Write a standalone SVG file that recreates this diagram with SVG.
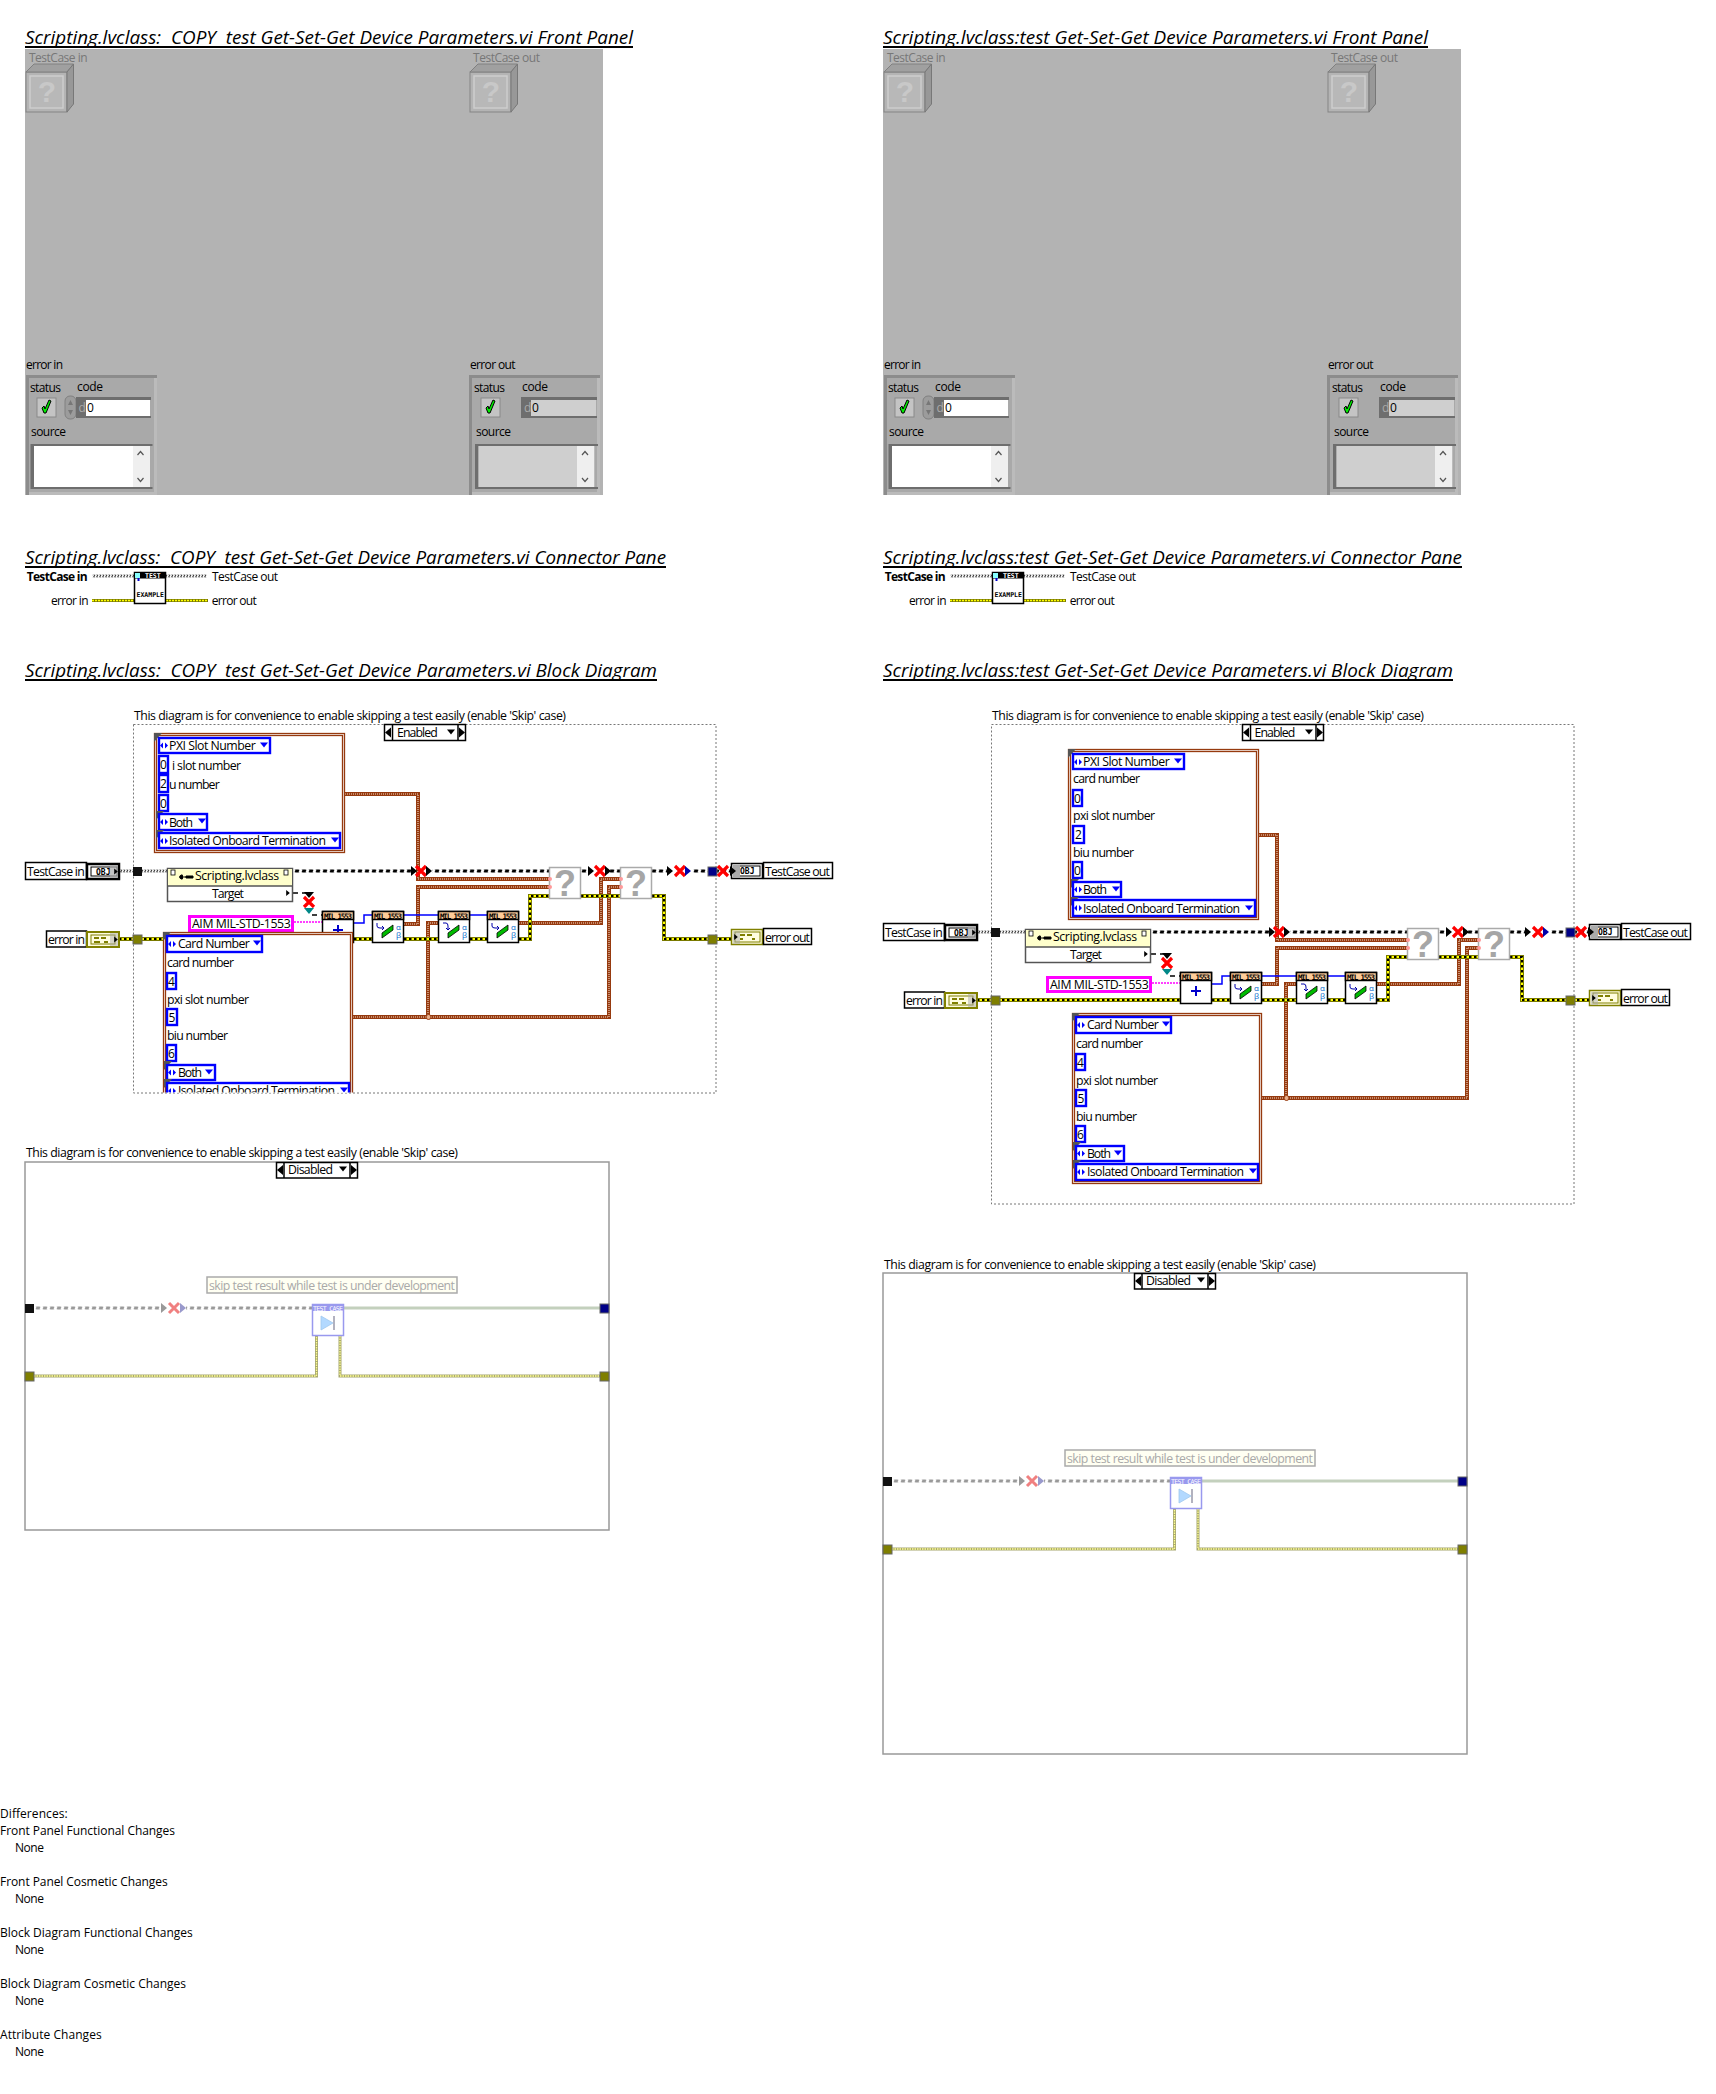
<svg xmlns="http://www.w3.org/2000/svg" width="1716" height="2094" viewBox="0 0 1716 2094">
<style>
text{font-family:"Open Sans","Noto Sans","Liberation Sans",sans-serif;font-size:12px;fill:#000;white-space:pre}
.ttl{font-style:italic;font-size:18px}
.g{fill:#777}
.b13{font-size:12.300px}
.num{font-size:12px;text-anchor:middle}
.mil{font-family:"DejaVu Sans Mono","Liberation Mono",monospace;font-size:7.500px;font-weight:bold}
.ab{font-size:8px;fill:#06c}
.obj{font-family:"DejaVu Sans Mono",monospace;font-size:8px;font-weight:bold}
.q{font-family:"Liberation Sans",sans-serif;font-weight:bold;font-size:36px;fill:#a6a6a6;text-anchor:middle}
.q2{font-family:"Liberation Sans",sans-serif;font-weight:bold;font-size:30px;fill:#c8c8c8;text-anchor:middle}
.dk{fill:#6e6e6e}
.bw1{fill:none;stroke:#963a0f;stroke-width:4}
.bw2{fill:none;stroke:#f4dccb;stroke-width:1.100;stroke-dasharray:1 1}
.yw1{fill:none;stroke:#7a7a00;stroke-width:4}
.yw2{fill:none;stroke:#ffff00;stroke-width:2}
.yw3{fill:none;stroke:#000;stroke-width:2;stroke-dasharray:2.500 2.500}
.kw{fill:none;stroke:url(#pk);stroke-width:3}
.kh{fill:none;stroke:url(#ph);stroke-width:3}
.blw{fill:none;stroke:#00f;stroke-width:1.500}
.pk{fill:none;stroke:#f0f;stroke-width:1.500;stroke-dasharray:2 1}
.td{fill:none;stroke:#000;stroke-width:1.500;stroke-dasharray:5 4}
.frm{fill:#fff;stroke:#777;stroke-width:1;stroke-dasharray:2 2}
.cl1{fill:#fff;stroke:#963a0f;stroke-width:1.300}
.cl2{fill:none;stroke:#963a0f;stroke-width:1.300}
.en{fill:#fff;stroke:#00f;stroke-width:2.400}
.blk{fill:#fff;stroke:#000;stroke-width:1.500}
.nd{fill:#fff;stroke:#000;stroke-width:1.500}
.hd{fill:#fc9;stroke:#000;stroke-width:1.500}
.qn{fill:#fff;stroke:#aaa;stroke-width:1.500}
.dy1{fill:none;stroke:#a8a870;stroke-width:3}
.dy2{fill:none;stroke:#ffff90;stroke-width:1.300;stroke-dasharray:1.500 1}
.dg{fill:none;stroke:url(#pg);stroke-width:3}
.dn{fill:none;stroke:#c3d0bd;stroke-width:3}
</style>
<defs>
<pattern id="pk" width="7" height="3" y="2.500" patternUnits="userSpaceOnUse"><path d="M.5 3L1.500 0H5.500L4.500 3Z" fill="#000"/></pattern>
<pattern id="ph" width="3" height="3" y="2.500" patternUnits="userSpaceOnUse"><path d="M0 3L1.500 0H2.500L1 3Z" fill="#000"/></pattern>
<pattern id="ph2" width="3" height="3" y="1.500" patternUnits="userSpaceOnUse"><path d="M0 3L1.500 0H2.500L1 3Z" fill="#000"/></pattern>
<pattern id="pg" width="7" height="3" y="1.500" patternUnits="userSpaceOnUse"><path d="M.5 3L1.500 0H5.500L4.500 3Z" fill="#999"/></pattern>
<g id="xm"><path d="M-5 -5L5 5M5 -5L-5 5" stroke="#f00" stroke-width="3.200" fill="none"/></g>
<path id="ar" d="M-3 -5L3 0L-3 5Z" fill="#000"/>
<g id="eic"><path d="M-4 0L-1 -3V3ZM4 0L1 -3V3Z" fill="#00f"/></g>
<path id="dd" d="M-4 -2.500H4L0 2.500Z" fill="#00f"/>
<path id="ddk" d="M-4 -2.500H4L0 2.500Z" fill="#000"/>
<path id="cor" d="M0 0H8L0 9Z" fill="#555"/>
<g id="cube">
<rect x="26" y="72" width="41" height="40" fill="#b4b4b4" stroke="#858585"/>
<path d="M26 72L34 64H73.500L67 72Z" fill="#a0a0a0" stroke="#808080"/>
<path d="M67 72L73.500 64V104L67 112Z" fill="#989898" stroke="#787878"/>
<rect x="30" y="76" width="33" height="32" fill="#b8b8b8" stroke="#cdcdcd" stroke-width="1.500"/>
</g>
<path id="chk" d="M-4 1L-2 -1L-1 2L3 -7L5 -6L0 6L-2 6Z" fill="#0e0" stroke="#000" stroke-width="1"/>
<g id="clu">
<rect x="26" y="375" width="131" height="120" fill="#a9a9a9"/>
<path d="M26 375H157V378H29V495H26Z" fill="#8c8c8c"/>
<rect x="29" y="492" width="128" height="3" fill="#bbb"/>
<rect x="154" y="378" width="3" height="117" fill="#bbb"/>
</g>
<g id="ico1"><path d="M-10 -6V-3Q-10 -1 -7 -1H-3M-5 -3L-3 -1L-5 1" fill="none" stroke="#00a" stroke-width="1"/><path d="M-5 9V4L6 -4V1Z" fill="#0b0" stroke="#000" stroke-width="0.800"/></g>
<g id="ico2"><path d="M-10 -6H-7Q-5 -6 -5 -3V1M-7 -1L-5 1L-3 -1" fill="none" stroke="#00a" stroke-width="1"/><path d="M-5 9V4L6 -4V1Z" fill="#0b0" stroke="#000" stroke-width="0.800"/></g>
<clipPath id="clip1"><rect x="130" y="724" width="590" height="368.500"/></clipPath>
</defs>

<g id="titles">
<text class="ttl" x="25" y="44" textLength="608" lengthAdjust="spacingAndGlyphs">Scripting.lvclass:  COPY  test Get-Set-Get Device Parameters.vi Front Panel</text><rect x="25" y="46" width="608" height="2"/>
<text class="ttl" x="883" y="44" textLength="545" lengthAdjust="spacingAndGlyphs">Scripting.lvclass:test Get-Set-Get Device Parameters.vi Front Panel</text><rect x="883" y="46" width="545" height="2"/>
<text class="ttl" x="25" y="564" textLength="641" lengthAdjust="spacingAndGlyphs">Scripting.lvclass:  COPY  test Get-Set-Get Device Parameters.vi Connector Pane</text><rect x="25" y="566" width="641" height="2"/>
<text class="ttl" x="883" y="564" textLength="579" lengthAdjust="spacingAndGlyphs">Scripting.lvclass:test Get-Set-Get Device Parameters.vi Connector Pane</text><rect x="883" y="566" width="579" height="2"/>
<text class="ttl" x="25" y="677" textLength="632" lengthAdjust="spacingAndGlyphs">Scripting.lvclass:  COPY  test Get-Set-Get Device Parameters.vi Block Diagram</text><rect x="25" y="679" width="632" height="2"/>
<text class="ttl" x="883" y="677" textLength="570" lengthAdjust="spacingAndGlyphs">Scripting.lvclass:test Get-Set-Get Device Parameters.vi Block Diagram</text><rect x="883" y="679" width="570" height="2"/>
</g>

<g id="front-panel-left">
<rect x="25" y="49" width="578" height="446" fill="#b3b3b3"/>
<text class="g" x="29" y="62" textLength="58.600">TestCase in</text>
<use href="#cube"/><text class="q2" x="47" y="102">?</text>
<text class="g" x="473" y="62" textLength="67">TestCase out</text>
<use href="#cube" x="444"/><text class="q2" x="491" y="102">?</text>
<text x="26" y="369" textLength="37">error in</text>
<use href="#clu"/>
<text x="30" y="392" textLength="31">status</text><text x="77" y="391" textLength="26">code</text>
<rect x="37" y="398" width="19" height="19" fill="#c4c4c4" stroke="#8a8a8a"/><use href="#chk" x="46" y="407"/>
<rect x="65" y="396" width="11" height="23" rx="5" fill="#9c9c9c" stroke="#808080"/>
<path d="M68 405L70.500 400L73 405ZM68 410L70.500 415L73 410Z" fill="#777"/>
<path class="dk" d="M76 397H151V400H86V416H151V418H76Z"/><rect x="86" y="400" width="64" height="16" fill="#fff"/>
<text x="78.500" y="412" style="fill:#aaa">d</text><text x="87" y="412">0</text>
<text x="31" y="436" textLength="35">source</text>
<path class="dk" d="M30.500 444H152.500V446H34V487H152.500V489H30.500Z"/><rect x="34" y="446" width="116" height="41" fill="#fff"/>
<rect x="133" y="446" width="17" height="41" fill="#efefef"/>
<path d="M137.500 455L140.500 451.500L143.500 455M137.500 478L140.500 481.500L143.500 478" fill="none" stroke="#555" stroke-width="1.200"/>
<text x="470" y="369" textLength="45.500">error out</text>
<use href="#clu" x="443"/><rect x="600" y="378" width="3" height="117" fill="#b3b3b3"/>
<text x="474" y="392" textLength="31">status</text><text x="522" y="391" textLength="26">code</text>
<rect x="481" y="398" width="19" height="19" fill="#c4c4c4" stroke="#8a8a8a"/><use href="#chk" x="490" y="407"/>
<path class="dk" d="M521 397H597V400H531V416H597V418H521Z"/><rect x="531" y="400" width="65" height="16" fill="#cfcfcf"/>
<text x="524" y="412" style="fill:#aaa">d</text><text x="532" y="412">0</text>
<text x="476" y="436" textLength="35">source</text>
<path class="dk" d="M475 444H598V446H478.500V487H598V489H475Z"/><rect x="478.500" y="446" width="116" height="41" fill="#cfcfcf"/>
<rect x="577" y="446" width="17" height="41" fill="#efefef"/>
<path d="M582 455L585 451.500L588 455M582 478L585 481.500L588 478" fill="none" stroke="#555" stroke-width="1.200"/>
</g>

<g id="front-panel-right" transform="translate(858 0)">
<rect x="25" y="49" width="578" height="446" fill="#b3b3b3"/>
<text class="g" x="29" y="62" textLength="58.600">TestCase in</text>
<use href="#cube"/><text class="q2" x="47" y="102">?</text>
<text class="g" x="473" y="62" textLength="67">TestCase out</text>
<use href="#cube" x="444"/><text class="q2" x="491" y="102">?</text>
<text x="26" y="369" textLength="37">error in</text>
<use href="#clu"/>
<text x="30" y="392" textLength="31">status</text><text x="77" y="391" textLength="26">code</text>
<rect x="37" y="398" width="19" height="19" fill="#c4c4c4" stroke="#8a8a8a"/><use href="#chk" x="46" y="407"/>
<rect x="65" y="396" width="11" height="23" rx="5" fill="#9c9c9c" stroke="#808080"/>
<path d="M68 405L70.500 400L73 405ZM68 410L70.500 415L73 410Z" fill="#777"/>
<path class="dk" d="M76 397H151V400H86V416H151V418H76Z"/><rect x="86" y="400" width="64" height="16" fill="#fff"/>
<text x="78.500" y="412" style="fill:#aaa">d</text><text x="87" y="412">0</text>
<text x="31" y="436" textLength="35">source</text>
<path class="dk" d="M30.500 444H152.500V446H34V487H152.500V489H30.500Z"/><rect x="34" y="446" width="116" height="41" fill="#fff"/>
<rect x="133" y="446" width="17" height="41" fill="#efefef"/>
<path d="M137.500 455L140.500 451.500L143.500 455M137.500 478L140.500 481.500L143.500 478" fill="none" stroke="#555" stroke-width="1.200"/>
<text x="470" y="369" textLength="45.500">error out</text>
<use href="#clu" x="443"/><rect x="600" y="378" width="3" height="117" fill="#b3b3b3"/>
<text x="474" y="392" textLength="31">status</text><text x="522" y="391" textLength="26">code</text>
<rect x="481" y="398" width="19" height="19" fill="#c4c4c4" stroke="#8a8a8a"/><use href="#chk" x="490" y="407"/>
<path class="dk" d="M521 397H597V400H531V416H597V418H521Z"/><rect x="531" y="400" width="65" height="16" fill="#cfcfcf"/>
<text x="524" y="412" style="fill:#aaa">d</text><text x="532" y="412">0</text>
<text x="476" y="436" textLength="35">source</text>
<path class="dk" d="M475 444H598V446H478.500V487H598V489H475Z"/><rect x="478.500" y="446" width="116" height="41" fill="#cfcfcf"/>
<rect x="577" y="446" width="17" height="41" fill="#efefef"/>
<path d="M582 455L585 451.500L588 455M582 478L585 481.500L588 478" fill="none" stroke="#555" stroke-width="1.200"/>
</g>

<g id="connector-pane-left">
<path d="M92 576H134M166 576H207" fill="none" stroke="url(#ph2)" stroke-width="3"/>
<path class="yw1" d="M92 600.500H134M166 600.500H208" style="stroke-width:3"/><path class="yw2" d="M92 600.500H134M166 600.500H208" style="stroke-dasharray:2 1;stroke-width:1.500"/>
<text x="26.700" y="581" style="font-weight:bold" textLength="61">TestCase in</text>
<text x="212" y="581" textLength="66">TestCase out</text>
<text x="51" y="605" textLength="37.500">error in</text>
<text x="211.700" y="605" textLength="45">error out</text>
<rect x="134.500" y="572.500" width="31" height="31" class="nd"/><rect x="134.500" y="572.500" width="31" height="6" fill="#000"/>
<rect x="135" y="573" width="5" height="5" fill="#8ff"/><rect x="137.500" y="578" width="2" height="3" fill="#00c"/>
<text class="mil" x="145" y="578" style="fill:#fff;font-size:6.500px">TEST</text>
<text class="mil" x="136.500" y="597" style="font-size:6.500px">EXAMPLE</text>
</g>
<g id="connector-pane-right" transform="translate(858 0)">
<path d="M92 576H134M166 576H207" fill="none" stroke="url(#ph2)" stroke-width="3"/>
<path class="yw1" d="M92 600.500H134M166 600.500H208" style="stroke-width:3"/><path class="yw2" d="M92 600.500H134M166 600.500H208" style="stroke-dasharray:2 1;stroke-width:1.500"/>
<text x="26.700" y="581" style="font-weight:bold" textLength="61">TestCase in</text>
<text x="212" y="581" textLength="66">TestCase out</text>
<text x="51" y="605" textLength="37.500">error in</text>
<text x="211.700" y="605" textLength="45">error out</text>
<rect x="134.500" y="572.500" width="31" height="31" class="nd"/><rect x="134.500" y="572.500" width="31" height="6" fill="#000"/>
<rect x="135" y="573" width="5" height="5" fill="#8ff"/><rect x="137.500" y="578" width="2" height="3" fill="#00c"/>
<text class="mil" x="145" y="578" style="fill:#fff;font-size:6.500px">TEST</text>
<text class="mil" x="136.500" y="597" style="font-size:6.500px">EXAMPLE</text>
</g>

<g id="bd-frames">
<text class="b13" x="134" y="720" textLength="432">This diagram is for convenience to enable skipping a test easily (enable 'Skip' case)</text>
<rect class="frm" x="133.500" y="724.500" width="582.500" height="368.500"/>
<text class="b13" x="992" y="720" textLength="432">This diagram is for convenience to enable skipping a test easily (enable 'Skip' case)</text>
<rect class="frm" x="991.500" y="724.500" width="582.500" height="479.500"/>
</g>

<g id="connectors">
<g id="wires-left">
<path class="bw1" d="M345 794H418V879H549M404 924H418V887H549M519 923H601V879H620M353 1017H609V887H620M428 1017V923H438"/>
<path class="bw2" d="M345 794H418V879H549M404 924H418V887H549M519 923H601V879H620M353 1017H609V887H620M428 1017V923H438"/>
<path class="yw1" d="M119 939H322M354 939H372M404 939H438M470 939H487M519 939H530V896H549M581 896H620M652 896H664V939H731"/>
<path class="yw2" d="M119 939H322M354 939H372M404 939H438M470 939H487M519 939H530V896H549M581 896H620M652 896H664V939H731"/>
<path class="yw3" d="M119 939H322M354 939H372M404 939H438M470 939H487M519 939H530V896H549M581 896H620M652 896H664V939H731"/>
<path class="kh" d="M119 871H167"/>
<path class="kw" d="M293 871H411M432 871H549M581 871H591M610 871H620M652 871H671M692 871H708M717 871H731"/>
<path class="td" d="M293 893H312M312 915H322"/>
<path class="pk" d="M294 922H322"/>
<path class="blw" d="M354 923H364V915H372M404 915H438M470 915H487"/>
</g>
<g id="wires-right" transform="translate(858 61)">
<path class="bw1" d="M401 774H419V879H549M404 923H419V887H549M519 923H601V879H620M404 1037H609V887H620M428 1037V923H438"/>
<path class="bw2" d="M401 774H419V879H549M404 923H419V887H549M519 923H601V879H620M404 1037H609V887H620M428 1037V923H438"/>
<path class="yw1" d="M119 939H322M354 939H372M404 939H438M470 939H487M519 939H530V896H549M581 896H620M652 896H664V939H731"/>
<path class="yw2" d="M119 939H322M354 939H372M404 939H438M470 939H487M519 939H530V896H549M581 896H620M652 896H664V939H731"/>
<path class="yw3" d="M119 939H322M354 939H372M404 939H438M470 939H487M519 939H530V896H549M581 896H620M652 896H664V939H731"/>
<path class="kh" d="M119 871H167"/>
<path class="kw" d="M293 871H411M432 871H549M581 871H591M610 871H620M652 871H671M692 871H708M717 871H731"/>
<path class="td" d="M293 893H312M312 915H322"/>
<path class="pk" d="M294 922H322"/>
<path class="blw" d="M354 923H364V915H372M404 915H438M470 915H487"/>
</g>
<g id="wires-disabled-left">
<path class="dy1" d="M34 1376H316.500V1336M340 1336V1376H600"/><path class="dy2" d="M34 1376H316.500V1336M340 1336V1376H600"/>
<path class="dg" d="M34 1308H162M186 1308H312"/><path class="dn" d="M344 1308H600"/>
</g>
<g id="wires-disabled-right" transform="translate(858 173)">
<path class="dy1" d="M34 1376H316.500V1336M340 1336V1376H600"/><path class="dy2" d="M34 1376H316.500V1336M340 1336V1376H600"/>
<path class="dg" d="M34 1308H162M186 1308H312"/><path class="dn" d="M344 1308H600"/>
</g>
</g>

<g id="bd-left">
<g id="sel-enabled-l"><rect class="blk" x="384.500" y="724.500" width="81" height="16"/><path d="M392.500 724.500V740.500M458 724.500V740.500" stroke="#000" stroke-width="1.500"/><use href="#ar" transform="translate(388 732.500) scale(-1 1)"/><use href="#ar" x="462" y="732.500"/><text class="b13" x="397" y="737" textLength="40.700">Enabled</text><use href="#ddk" x="451" y="732"/></g>
<g id="cluster1-l"><rect class="cl1" x="154.500" y="733.500" width="190" height="119"/><rect class="cl2" x="156.500" y="735.500" width="186" height="115"/><use href="#cor" x="154" y="733"/>
<rect class="en" x="159" y="738" width="111" height="15"/><use href="#eic" x="164" y="745.500"/><text class="b13" x="169" y="750" textLength="86.700">PXI Slot Number</text><use href="#dd" x="264" y="745"/>
<rect class="en" x="159" y="756" width="9" height="17"/><text class="num" x="163.500" y="769">0</text><text class="b13" x="172" y="770" textLength="69">i slot number</text>
<rect class="en" x="159" y="775" width="9" height="17"/><text class="num" x="163.500" y="788">2</text><text class="b13" x="169" y="789" textLength="50.700">u number</text>
<rect class="en" x="159" y="795" width="9" height="16"/><text class="num" x="163.500" y="808">0</text>
<use href="#cor" x="156" y="811"/><rect class="en" x="159" y="814" width="48" height="16"/><use href="#eic" x="164" y="822"/><text class="b13" x="169" y="827" textLength="24">Both</text><use href="#dd" x="202" y="821"/>
<use href="#cor" x="156" y="830"/><rect class="en" x="159" y="833" width="181" height="15"/><use href="#eic" x="164" y="841"/><text class="b13" x="169" y="845" textLength="157">Isolated Onboard Termination</text><use href="#dd" x="335" y="840"/></g>
<g id="testcase-in-l"><rect class="blk" x="25.500" y="862.500" width="61" height="17"/><text class="b13" x="27" y="876" textLength="57.700">TestCase in</text><rect x="87" y="864" width="32" height="15" fill="#fff" stroke="#000" stroke-width="2.500"/><rect x="91" y="867" width="26" height="9" fill="#fff" stroke="#000"/><text class="obj" x="96" y="874.500">OBJ</text><rect x="110" y="865" width="8" height="13" fill="#aaa" opacity="0.7"/><use href="#ar" transform="translate(116 871.500) scale(0.6)"/></g>
<g id="error-in-l"><rect class="blk" x="46.500" y="931" width="40" height="16"/><text class="b13" x="48" y="944" textLength="37">error in</text><rect x="87" y="932" width="32" height="15" fill="#fffde0" stroke="#808000" stroke-width="2"/><rect x="91" y="935" width="24" height="9" fill="none" stroke="#808000"/><path d="M94 937h5v2h-5zM101 937h5v2h-5zM94 941h6v2h-6zM104 941h4v2h-4z" fill="#808000"/><rect x="110" y="933" width="8" height="13" fill="#aaa" opacity="0.5"/><use href="#ar" transform="translate(116 939.500) scale(0.6)"/></g>
<rect id="tun-obj-in-l" x="133" y="867" width="9" height="9" fill="#111"/>
<rect id="tun-err-in-l" x="133" y="935" width="9" height="9" fill="#7f7f00" stroke="#666"/>
<g id="class-l"><rect x="167.500" y="868.500" width="125" height="33" fill="#fff" stroke="#555" stroke-width="1.500"/><rect x="168" y="869" width="124" height="17" fill="#ffc"/><path d="M167.500 886H292.500" stroke="#555" stroke-width="1.500"/><text class="b13" x="195" y="880" textLength="84">Scripting.lvclass</text><text class="b13" x="228" y="898" text-anchor="middle" textLength="32">Target</text><path d="M182 877h6M183 875.500a2 2 0 1 0 0 3M186 876h7v2h-7z" fill="#000" stroke="#000"/><rect x="171" y="870" width="4" height="5" fill="#fff" stroke="#000" stroke-width="0.800"/><rect x="284" y="870" width="4" height="5" fill="#fff" stroke="#000" stroke-width="0.800"/><use href="#ar" transform="translate(288 893) scale(0.6)"/></g>
<g id="aim-l"><rect x="189.500" y="916.500" width="103" height="14" fill="#fff" stroke="#f0f" stroke-width="3"/><text class="b13" x="192" y="928" textLength="98.700">AIM MIL-STD-1553</text></g>
<g id="mil1-l"><rect class="nd" x="322.500" y="911.500" width="31" height="31"/><rect class="hd" x="322.500" y="911.500" width="31" height="8"/><text class="mil" x="324" y="918.500" textLength="28">MIL 1553</text><path d="M338 925V935M333 930H343" stroke="#00c" stroke-width="2"/></g>
<g id="mil2-l"><rect class="nd" x="372.500" y="911.500" width="31" height="31"/><rect class="hd" x="372.500" y="911.500" width="31" height="8"/><text class="mil" x="374" y="918.500" textLength="28">MIL 1553</text><use href="#ico1" x="387" y="929"/><text class="ab" x="396" y="930">α</text><text class="ab" x="396" y="938">β</text></g>
<g id="mil3-l"><rect class="nd" x="438.500" y="911.500" width="31" height="31"/><rect class="hd" x="438.500" y="911.500" width="31" height="8"/><text class="mil" x="440" y="918.500" textLength="28">MIL 1553</text><use href="#ico2" x="453" y="929"/><text class="ab" x="462" y="930">α</text><text class="ab" x="462" y="938">β</text></g>
<g id="mil4-l"><rect class="nd" x="487.500" y="911.500" width="31" height="31"/><rect class="hd" x="487.500" y="911.500" width="31" height="8"/><text class="mil" x="489" y="918.500" textLength="28">MIL 1553</text><use href="#ico1" x="502" y="929"/><text class="ab" x="511" y="930">α</text><text class="ab" x="511" y="938">β</text></g>
<g id="cluster2-l" clip-path="url(#clip1)"><rect class="cl1" x="163.500" y="932.500" width="189" height="171"/><rect class="cl2" x="165.500" y="934.500" width="185" height="167"/><use href="#cor" x="163" y="932"/>
<rect class="en" x="167" y="936" width="95" height="16"/><use href="#eic" x="172" y="944"/><text class="b13" x="178" y="948" textLength="71.700">Card Number</text><use href="#dd" x="257" y="943"/>
<text class="b13" x="167" y="967" textLength="67">card number</text><rect class="en" x="167" y="973" width="9" height="16"/><text class="num" x="171.500" y="986">4</text>
<text class="b13" x="167" y="1004" textLength="82">pxi slot number</text><rect class="en" x="167" y="1009" width="10" height="16"/><text class="num" x="172" y="1022">5</text>
<text class="b13" x="167" y="1040" textLength="61">biu number</text><rect class="en" x="167" y="1045" width="9" height="16"/><text class="num" x="171.500" y="1058">6</text>
<use href="#cor" x="164" y="1061"/><rect class="en" x="167" y="1065" width="48" height="15"/><use href="#eic" x="172" y="1072.500"/><text class="b13" x="178" y="1077" textLength="24">Both</text><use href="#dd" x="209" y="1072"/>
<use href="#cor" x="164" y="1079"/><rect class="en" x="167" y="1083" width="182" height="16"/><use href="#eic" x="172" y="1091"/><text class="b13" x="178" y="1095" textLength="157">Isolated Onboard Termination</text><use href="#dd" x="344" y="1090"/></g>
<g id="q1-l"><rect class="qn" x="549.500" y="867.500" width="31" height="31"/><text class="q" x="565" y="896">?</text><circle cx="550" cy="879" r="2" fill="#f99"/><circle cx="550" cy="887" r="2" fill="#f99"/></g>
<g id="q2-l"><rect class="qn" x="620.500" y="867.500" width="31" height="31"/><text class="q" x="636" y="896">?</text><circle cx="621" cy="879" r="2" fill="#f99"/><circle cx="621" cy="887" r="2" fill="#f99"/></g>
<circle id="junction-l" cx="428.500" cy="1017" r="2.500" fill="#e9b08c" stroke="#963a0f"/>
<g id="bugs-l">
<use href="#ar" x="414" y="871"/><use href="#xm" x="421" y="871"/><use href="#ar" x="429" y="871"/>
<use href="#ar" x="591" y="871"/><use href="#xm" x="600" y="871"/><use href="#ar" x="608" y="871"/>
<use href="#ar" x="670" y="871"/><use href="#xm" x="680" y="871"/><path d="M685 866L691 871L685 876Z" fill="#00a"/>
<path d="M304 892H314L309 898Z" fill="#000"/><use href="#xm" x="309" y="902"/><path d="M304 908H314L309 914Z" fill="#088"/>
</g>
<rect id="tun-obj-out-l" x="708" y="867" width="9" height="9" fill="#008" stroke="#666"/>
<rect id="tun-err-out-l" x="708" y="935" width="9" height="9" fill="#7f7f00" stroke="#666"/>
<g id="testcase-out-l"><rect x="731.500" y="863.500" width="31" height="15" fill="#fff" stroke="#000" stroke-width="1.500"/><rect x="735" y="866" width="25" height="10" fill="#fff" stroke="#000"/><text class="obj" x="740" y="874">OBJ</text><rect x="733" y="865" width="7" height="13" fill="#aaa"/><use href="#xm" x="723" y="871"/><use href="#ar" x="733" y="871"/><rect class="blk" x="763.500" y="862.500" width="69" height="16"/><text class="b13" x="765" y="876" textLength="65">TestCase out</text></g>
<g id="error-out-l"><rect x="731.500" y="929.500" width="31" height="15" fill="#fffde0" stroke="#808000" stroke-width="1.500"/><rect x="735" y="932" width="25" height="10" fill="none" stroke="#808000"/><path d="M740 934h5v2h-5zM747 934h5v2h-5zM740 938h3v2h-3zM752 938h3v2h-3z" fill="#808000"/><rect x="733" y="931" width="7" height="13" fill="#aaa" opacity="0.5"/><use href="#ar" transform="translate(736 937) scale(0.6)"/><rect class="blk" x="763.500" y="928.500" width="48" height="16"/><text class="b13" x="765" y="942" textLength="45">error out</text></g>
</g>

<g id="bd-right">
<g id="sel-enabled-r"><rect class="blk" x="1242.500" y="724.500" width="81" height="16"/><path d="M1250.500 724.500V740.500M1316 724.500V740.500" stroke="#000" stroke-width="1.500"/><use href="#ar" transform="translate(1246 732.500) scale(-1 1)"/><use href="#ar" x="1320" y="732.500"/><text class="b13" x="1254.500" y="737" textLength="40.700">Enabled</text><use href="#ddk" x="1309" y="732"/></g>
<g id="cluster1-r"><rect class="cl1" x="1068.500" y="749.500" width="190" height="170"/><rect class="cl2" x="1070.500" y="751.500" width="186" height="166"/><use href="#cor" x="1068" y="749"/>
<rect class="en" x="1073" y="754" width="111" height="15"/><use href="#eic" x="1078" y="762"/><text class="b13" x="1083" y="766" textLength="86.700">PXI Slot Number</text><use href="#dd" x="1178" y="761"/>
<text class="b13" x="1073" y="783" textLength="67">card number</text><rect class="en" x="1073" y="790" width="9" height="16"/><text class="num" x="1077.500" y="803">0</text>
<text class="b13" x="1073" y="820" textLength="82">pxi slot number</text><rect class="en" x="1073" y="826" width="11" height="17"/><text class="num" x="1078.500" y="839">2</text>
<text class="b13" x="1073" y="857" textLength="61">biu number</text><rect class="en" x="1073" y="862" width="9" height="16"/><text class="num" x="1077.500" y="875">0</text>
<use href="#cor" x="1071" y="879"/><rect class="en" x="1073" y="882" width="48" height="15"/><use href="#eic" x="1078" y="889.500"/><text class="b13" x="1083" y="894" textLength="24">Both</text><use href="#dd" x="1116" y="889"/>
<use href="#cor" x="1071" y="897"/><rect class="en" x="1073" y="900" width="182" height="16"/><use href="#eic" x="1078" y="908"/><text class="b13" x="1083" y="913" textLength="157">Isolated Onboard Termination</text><use href="#dd" x="1249" y="908"/></g>
<g id="testcase-in-r"><rect class="blk" x="883.500" y="923.500" width="61" height="17"/><text class="b13" x="885" y="937" textLength="57.700">TestCase in</text><rect x="945" y="925" width="32" height="15" fill="#fff" stroke="#000" stroke-width="2.500"/><rect x="949" y="928" width="26" height="9" fill="#fff" stroke="#000"/><text class="obj" x="954" y="935.500">OBJ</text><rect x="968" y="926" width="8" height="13" fill="#aaa" opacity="0.7"/><use href="#ar" transform="translate(974 932.500) scale(0.6)"/></g>
<g id="error-in-r"><rect class="blk" x="904.500" y="992" width="40" height="16"/><text class="b13" x="906" y="1005" textLength="37">error in</text><rect x="945" y="993" width="32" height="15" fill="#fffde0" stroke="#808000" stroke-width="2"/><rect x="949" y="996" width="24" height="9" fill="none" stroke="#808000"/><path d="M952 998h5v2h-5zM959 998h5v2h-5zM952 1002h6v2h-6zM962 1002h4v2h-4z" fill="#808000"/><rect x="968" y="994" width="8" height="13" fill="#aaa" opacity="0.5"/><use href="#ar" transform="translate(974 1000.500) scale(0.6)"/></g>
<rect id="tun-obj-in-r" x="991" y="928" width="9" height="9" fill="#111"/>
<rect id="tun-err-in-r" x="991" y="996" width="9" height="9" fill="#7f7f00" stroke="#666"/>
<g id="class-r"><rect x="1025.500" y="929.500" width="125" height="33" fill="#fff" stroke="#555" stroke-width="1.500"/><rect x="1026" y="930" width="124" height="17" fill="#ffc"/><path d="M1025.500 947H1150.500" stroke="#555" stroke-width="1.500"/><text class="b13" x="1053" y="941" textLength="84">Scripting.lvclass</text><text class="b13" x="1086" y="959" text-anchor="middle" textLength="32">Target</text><path d="M1040 938h6M1041 936.500a2 2 0 1 0 0 3M1044 937h7v2h-7z" fill="#000" stroke="#000"/><rect x="1029" y="931" width="4" height="5" fill="#fff" stroke="#000" stroke-width="0.800"/><rect x="1142" y="931" width="4" height="5" fill="#fff" stroke="#000" stroke-width="0.800"/><use href="#ar" transform="translate(1146 954) scale(0.6)"/></g>
<g id="aim-r"><rect x="1047.500" y="977.500" width="103" height="14" fill="#fff" stroke="#f0f" stroke-width="3"/><text class="b13" x="1050" y="989" textLength="98.700">AIM MIL-STD-1553</text></g>
<g id="mil1-r"><rect class="nd" x="1180.500" y="972.500" width="31" height="31"/><rect class="hd" x="1180.500" y="972.500" width="31" height="8"/><text class="mil" x="1182" y="979.500" textLength="28">MIL 1553</text><path d="M1196 986V996M1191 991H1201" stroke="#00c" stroke-width="2"/></g>
<g id="mil2-r"><rect class="nd" x="1230.500" y="972.500" width="31" height="31"/><rect class="hd" x="1230.500" y="972.500" width="31" height="8"/><text class="mil" x="1232" y="979.500" textLength="28">MIL 1553</text><use href="#ico1" x="1245" y="990"/><text class="ab" x="1254" y="991">α</text><text class="ab" x="1254" y="999">β</text></g>
<g id="mil3-r"><rect class="nd" x="1296.500" y="972.500" width="31" height="31"/><rect class="hd" x="1296.500" y="972.500" width="31" height="8"/><text class="mil" x="1298" y="979.500" textLength="28">MIL 1553</text><use href="#ico2" x="1311" y="990"/><text class="ab" x="1320" y="991">α</text><text class="ab" x="1320" y="999">β</text></g>
<g id="mil4-r"><rect class="nd" x="1345.500" y="972.500" width="31" height="31"/><rect class="hd" x="1345.500" y="972.500" width="31" height="8"/><text class="mil" x="1347" y="979.500" textLength="28">MIL 1553</text><use href="#ico1" x="1360" y="990"/><text class="ab" x="1369" y="991">α</text><text class="ab" x="1369" y="999">β</text></g>
<g id="cluster2-r" transform="translate(909 81)"><rect class="cl1" x="163.500" y="932.500" width="189" height="170"/><rect class="cl2" x="165.500" y="934.500" width="185" height="166"/><use href="#cor" x="163" y="932"/>
<rect class="en" x="167" y="936" width="95" height="16"/><use href="#eic" x="172" y="944"/><text class="b13" x="178" y="948" textLength="71.700">Card Number</text><use href="#dd" x="257" y="943"/>
<text class="b13" x="167" y="967" textLength="67">card number</text><rect class="en" x="167" y="973" width="9" height="16"/><text class="num" x="171.500" y="986">4</text>
<text class="b13" x="167" y="1004" textLength="82">pxi slot number</text><rect class="en" x="167" y="1009" width="10" height="16"/><text class="num" x="172" y="1022">5</text>
<text class="b13" x="167" y="1040" textLength="61">biu number</text><rect class="en" x="167" y="1045" width="9" height="16"/><text class="num" x="171.500" y="1058">6</text>
<use href="#cor" x="164" y="1061"/><rect class="en" x="167" y="1065" width="48" height="15"/><use href="#eic" x="172" y="1072.500"/><text class="b13" x="178" y="1077" textLength="24">Both</text><use href="#dd" x="209" y="1072"/>
<use href="#cor" x="164" y="1079"/><rect class="en" x="167" y="1083" width="182" height="16"/><use href="#eic" x="172" y="1091"/><text class="b13" x="178" y="1095" textLength="157">Isolated Onboard Termination</text><use href="#dd" x="344" y="1090"/></g>
<g id="q1-r"><rect class="qn" x="1407.500" y="928.500" width="31" height="31"/><text class="q" x="1423" y="957">?</text><circle cx="1408" cy="940" r="2" fill="#f99"/><circle cx="1408" cy="948" r="2" fill="#f99"/></g>
<g id="q2-r"><rect class="qn" x="1478.500" y="928.500" width="31" height="31"/><text class="q" x="1494" y="957">?</text><circle cx="1479" cy="940" r="2" fill="#f99"/><circle cx="1479" cy="948" r="2" fill="#f99"/></g>
<circle id="junction-r" cx="1286.500" cy="1098" r="2.500" fill="#e9b08c" stroke="#963a0f"/>
<g id="bugs-r" transform="translate(858 61)">
<use href="#ar" x="414" y="871"/><use href="#xm" x="421" y="871"/><use href="#ar" x="429" y="871"/>
<use href="#ar" x="591" y="871"/><use href="#xm" x="600" y="871"/><use href="#ar" x="608" y="871"/>
<use href="#ar" x="670" y="871"/><use href="#xm" x="680" y="871"/><path d="M685 866L691 871L685 876Z" fill="#00a"/>
<path d="M304 892H314L309 898Z" fill="#000"/><use href="#xm" x="309" y="902"/><path d="M304 908H314L309 914Z" fill="#088"/>
</g>
<rect id="tun-obj-out-r" x="1566" y="928" width="9" height="9" fill="#008" stroke="#666"/>
<rect id="tun-err-out-r" x="1566" y="996" width="9" height="9" fill="#7f7f00" stroke="#666"/>
<g id="testcase-out-r" transform="translate(858 61)"><rect x="731.500" y="863.500" width="31" height="15" fill="#fff" stroke="#000" stroke-width="1.500"/><rect x="735" y="866" width="25" height="10" fill="#fff" stroke="#000"/><text class="obj" x="740" y="874">OBJ</text><rect x="733" y="865" width="7" height="13" fill="#aaa"/><use href="#xm" x="723" y="871"/><use href="#ar" x="733" y="871"/><rect class="blk" x="763.500" y="862.500" width="69" height="16"/><text class="b13" x="765" y="876" textLength="65">TestCase out</text></g>
<g id="error-out-r" transform="translate(858 61)"><rect x="731.500" y="929.500" width="31" height="15" fill="#fffde0" stroke="#808000" stroke-width="1.500"/><rect x="735" y="932" width="25" height="10" fill="none" stroke="#808000"/><path d="M740 934h5v2h-5zM747 934h5v2h-5zM740 938h3v2h-3zM752 938h3v2h-3z" fill="#808000"/><rect x="733" y="931" width="7" height="13" fill="#aaa" opacity="0.5"/><use href="#ar" transform="translate(736 937) scale(0.6)"/><rect class="blk" x="763.500" y="928.500" width="48" height="16"/><text class="b13" x="765" y="942" textLength="45">error out</text></g>
</g>

<g id="disabled-left">
<text class="b13" x="26" y="1157" textLength="432">This diagram is for convenience to enable skipping a test easily (enable 'Skip' case)</text>
<rect x="25" y="1162" width="584" height="368" fill="none" stroke="#999" stroke-width="1.500"/>
<g id="sel-disabled-l"><rect class="blk" x="276.500" y="1162.500" width="81" height="15.500"/><path d="M284 1162.500V1178M350 1162.500V1178" stroke="#000" stroke-width="1.500"/><use href="#ar" transform="translate(280 1170) scale(-1 1)"/><use href="#ar" x="354" y="1170"/><text class="b13" x="288" y="1174" textLength="45">Disabled</text><use href="#ddk" x="343" y="1169"/></g>
<g id="comment-l"><rect x="207" y="1277" width="250" height="16" fill="#fffff2" stroke="#aaa" stroke-width="1.500"/><text class="b13" x="209" y="1290" textLength="246" style="fill:#a9a9a9">skip test result while test is under development</text></g>
<rect x="25" y="1304" width="9" height="9" fill="#111"/><rect x="25" y="1372" width="9" height="9" fill="#7f7f00" stroke="#666"/>
<rect x="600" y="1304" width="9" height="9" fill="#008" stroke="#666"/><rect x="600" y="1372" width="9" height="9" fill="#7f7f00" stroke="#666"/>
<path d="M161 1303L167 1308L161 1313Z" fill="#999"/><path d="M169 1303L179 1313M179 1303L169 1313" stroke="#f08080" stroke-width="3"/><path d="M180 1303L186 1308L180 1313Z" fill="#99c"/>
<g id="skip-l"><rect x="312.500" y="1304.500" width="31" height="31" fill="#fff" stroke="#9999ee" stroke-width="1.500"/><rect x="312" y="1304" width="32" height="7" fill="#9999ee"/><text class="mil" x="313" y="1310.500" textLength="30" style="fill:#fff;font-size:6.500px;font-weight:normal">TEST CASE</text><path d="M321 1316L333 1323L321 1330Z" fill="#b3d9ff" stroke="#a0c8ee" stroke-width="0.800"/><path d="M334 1316V1330" stroke="#99a" stroke-width="1.500"/></g>
</g>
<g id="disabled-right">
<text class="b13" x="884" y="1269" textLength="432">This diagram is for convenience to enable skipping a test easily (enable 'Skip' case)</text>
<rect x="883" y="1273" width="584" height="481" fill="none" stroke="#999" stroke-width="1.500"/>
<g id="sel-disabled-r"><rect class="blk" x="1134.500" y="1273.500" width="81" height="15.500"/><path d="M1142 1273.500V1289M1208 1273.500V1289" stroke="#000" stroke-width="1.500"/><use href="#ar" transform="translate(1138 1281) scale(-1 1)"/><use href="#ar" x="1212" y="1281"/><text class="b13" x="1146" y="1285" textLength="45">Disabled</text><use href="#ddk" x="1201" y="1280"/></g>
<g transform="translate(858 173)">
<g id="comment-r"><rect x="207" y="1277" width="250" height="16" fill="#fffff2" stroke="#aaa" stroke-width="1.500"/><text class="b13" x="209" y="1290" textLength="246" style="fill:#a9a9a9">skip test result while test is under development</text></g>
<rect x="25" y="1304" width="9" height="9" fill="#111"/><rect x="25" y="1372" width="9" height="9" fill="#7f7f00" stroke="#666"/>
<rect x="600" y="1304" width="9" height="9" fill="#008" stroke="#666"/><rect x="600" y="1372" width="9" height="9" fill="#7f7f00" stroke="#666"/>
<path d="M161 1303L167 1308L161 1313Z" fill="#999"/><path d="M169 1303L179 1313M179 1303L169 1313" stroke="#f08080" stroke-width="3"/><path d="M180 1303L186 1308L180 1313Z" fill="#99c"/>
<g id="skip-r"><rect x="312.500" y="1304.500" width="31" height="31" fill="#fff" stroke="#9999ee" stroke-width="1.500"/><rect x="312" y="1304" width="32" height="7" fill="#9999ee"/><text class="mil" x="313" y="1310.500" textLength="30" style="fill:#fff;font-size:6.500px;font-weight:normal">TEST CASE</text><path d="M321 1316L333 1323L321 1330Z" fill="#b3d9ff" stroke="#a0c8ee" stroke-width="0.800"/><path d="M334 1316V1330" stroke="#99a" stroke-width="1.500"/></g>
</g>
</g>

<g id="differences">
<text x="0" y="1818" textLength="67.700">Differences:</text>
<text x="0" y="1835" textLength="175">Front Panel Functional Changes</text>
<text x="15" y="1852" textLength="29">None</text>
<text x="0" y="1886" textLength="167.700">Front Panel Cosmetic Changes</text>
<text x="15" y="1903" textLength="29">None</text>
<text x="0" y="1937" textLength="192.700">Block Diagram Functional Changes</text>
<text x="15" y="1954" textLength="29">None</text>
<text x="0" y="1988" textLength="186">Block Diagram Cosmetic Changes</text>
<text x="15" y="2005" textLength="29">None</text>
<text x="0" y="2039" textLength="101.700">Attribute Changes</text>
<text x="15" y="2056" textLength="29">None</text>
</g>
</svg>
